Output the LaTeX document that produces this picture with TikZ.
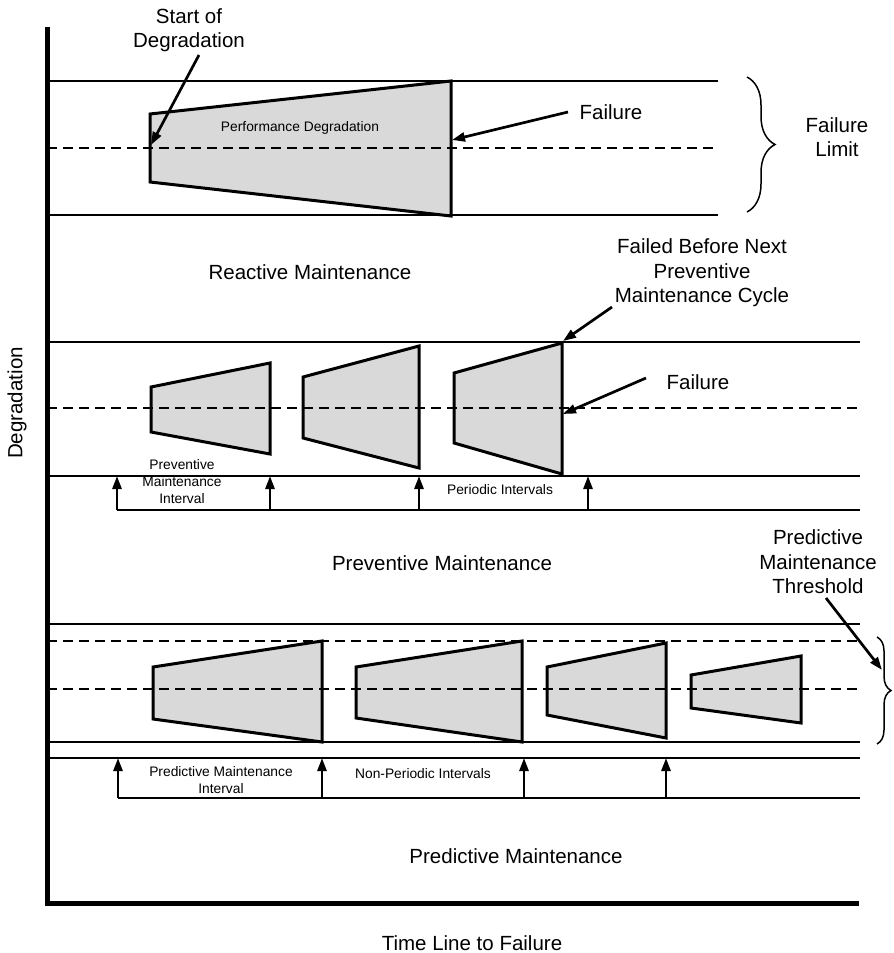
\documentclass[tikz,border=0pt]{standalone}
\usepackage{fontspec}
\setmainfont{Liberation Sans}
\usetikzlibrary{arrows.meta,decorations.pathreplacing}
\definecolor{trapgray}{gray}{0.85}
\begin{document}
\begin{tikzpicture}[x=1pt,y=-1pt,
  bigtxt/.style={font=\fontsize{20.5}{24.5}\selectfont, align=center, inner sep=0pt},
  smalltxt/.style={font=\fontsize{13.8}{17}\selectfont, align=center, inner sep=0pt},
  band/.style={line width=2.3pt},
  midline/.style={line width=2.3pt, dash pattern=on 10pt off 6pt},
  trap/.style={draw, fill=trapgray, line width=3pt, line join=miter},
  axisline/.style={line width=5.5pt, line join=miter},
  callout/.style={line width=2.7pt, -{Triangle[length=13pt,width=9pt]}},
  tickarrow/.style={line width=2.7pt, -{Triangle[length=13pt,width=9pt]}},
  limitbrace/.style={decorate, decoration={brace, amplitude=#1}, line width=1.5pt}
]
\useasboundingbox (0,0) rectangle (894,953);

% ---------- degradation envelopes (filled first, lines drawn on top) ----------
% reactive
\filldraw[trap] (150,114) -- (451,81) -- (451,216) -- (150,182) -- cycle;
% preventive
\filldraw[trap] (151,387) -- (270,363) -- (270,454) -- (151,432) -- cycle;
\filldraw[trap] (303,377) -- (419,346) -- (419,468) -- (303,438) -- cycle;
\filldraw[trap] (454,373) -- (562,343) -- (562,474) -- (454,443) -- cycle;
% predictive
\filldraw[trap] (153,667) -- (322,641) -- (322,742) -- (153,719) -- cycle;
\filldraw[trap] (356,667) -- (522,641) -- (522,742) -- (356,718) -- cycle;
\filldraw[trap] (547,667) -- (666,643) -- (666,738) -- (547,715) -- cycle;
\filldraw[trap] (691,675) -- (801,656) -- (801,723) -- (691,708) -- cycle;

% ---------- reactive band ----------
\draw[band] (47,81) -- (718,81);
\draw[midline] (47,148) -- (718,148);
\draw[band] (47,215) -- (718,215);

% ---------- preventive band ----------
\draw[band] (47,342) -- (860,342);
\draw[midline] (47,408) -- (860,408);
\draw[band] (47,476) -- (860,476);
\draw[band] (117,510) -- (860,510);
\foreach \xx/\nm in {117/pa,270/pb,419/pc,588/pd} {
  \coordinate (\nm low) at (\xx,510);
  \coordinate (\nm high) at (\xx,476);
  \draw[tickarrow] (\nm low) -- (\nm high);
}

% ---------- predictive band ----------
\draw[band] (47,624) -- (860,624);
\draw[midline] (47,641) -- (860,641);
\draw[midline] (47,689) -- (860,689);
\draw[band] (47,742) -- (860,742);
\draw[band] (47,758) -- (860,758);
\draw[band] (118,798) -- (860,798);
\foreach \xx/\nm in {118/qa,322/qb,524/qc,666/qd} {
  \coordinate (\nm low) at (\xx,798);
  \coordinate (\nm high) at (\xx,758);
  \draw[tickarrow] (\nm low) -- (\nm high);
}

% ---------- axes ----------
\draw[axisline] (47.5,27) -- (47.5,903.5) -- (859,903.5);
\node[bigtxt, rotate=90] (ylabel) at (17,403) {Degradation};
\node[bigtxt] (xlabel) at (472,943) {Time Line to Failure};

% ---------- braces ----------
\draw[limitbrace=28pt] (747,77) -- (747,212);
\node[bigtxt] (limitlbl) at (837,137) {Failure\\Limit};
\draw[limitbrace=14pt] (877,637) -- (877,744);

% ---------- labels ----------
\node[smalltxt] (perflbl) at (300,128) {Performance Degradation};
\node[bigtxt] (reactlbl) at (310,272) {Reactive Maintenance};
\node[bigtxt] (prevlbl) at (442,563) {Preventive Maintenance};
\node[bigtxt] (predlbl) at (516,856) {Predictive Maintenance};

\node[smalltxt] (pmint) at (182,482) {Preventive\\Maintenance\\Interval};
\node[smalltxt] (perint) at (500,490) {Periodic Intervals};
\node[smalltxt] (pdint) at (221,780) {Predictive Maintenance\\Interval};
\node[smalltxt] (npint) at (423,774) {Non-Periodic Intervals};

% ---------- callouts ----------
\node[bigtxt] (startlbl) at (189,30) {Start of\\Degradation};
\coordinate (starttail) at (199,55);
\coordinate (starthead) at (151,145);
\draw[callout] (starttail) -- (starthead);

\node[bigtxt] (failA) at (611,112) {Failure};
\coordinate (failAtail) at (568,112);
\coordinate (failAhead) at (452,140);
\draw[callout] (failAtail) -- (failAhead);

\node[bigtxt] (failedlbl) at (702,273) {Failed Before Next\\Preventive\\Maintenance Cycle};
\coordinate (failedtail) at (612,307);
\coordinate (failedhead) at (563,341);
\draw[callout] (failedtail) -- (failedhead);

\node[bigtxt] (failB) at (698,382) {Failure};
\coordinate (failBtail) at (646,378);
\coordinate (failBhead) at (563,414);
\draw[callout] (failBtail) -- (failBhead);

\node[bigtxt] (threshlbl) at (818,562) {Predictive\\Maintenance\\Threshold};
\coordinate (threshtail) at (826,598);
\coordinate (threshhead) at (882,670);
\draw[callout] (threshtail) -- (threshhead);
\end{tikzpicture}
\end{document}
